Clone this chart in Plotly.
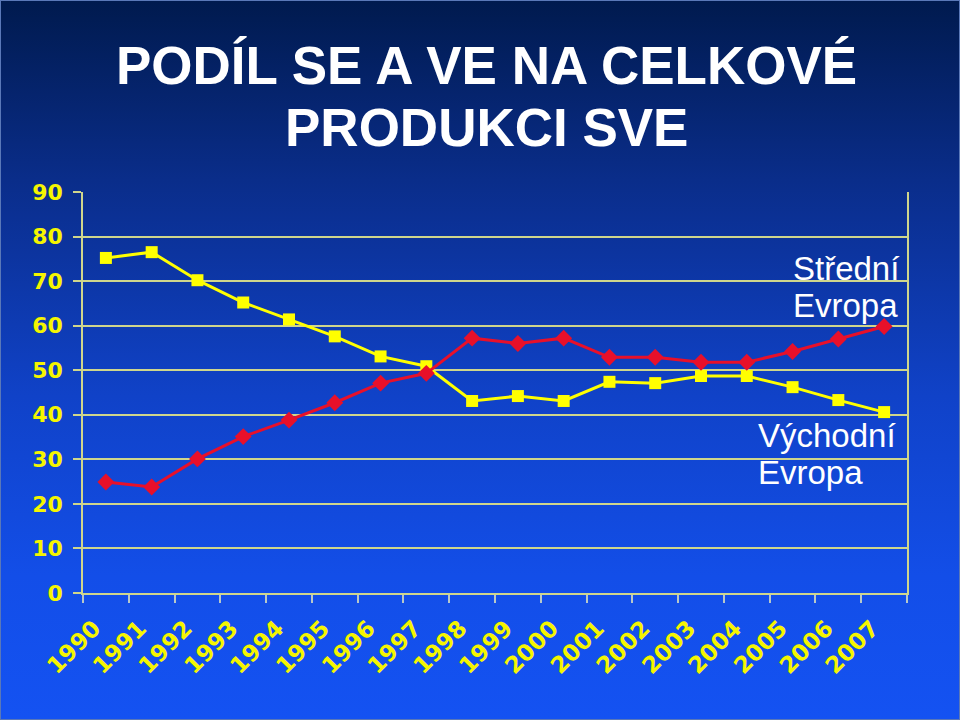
import base64
import plotly.graph_objects as go

years = [str(y) for y in range(1990, 2008)]
vychodni = [75.2, 76.5, 70.2, 65.2, 61.4, 57.6, 53.1, 50.9, 43.1, 44.2, 43.1, 47.4, 47.1, 48.7, 48.7, 46.2, 43.3, 40.6]
stredni = [24.9, 23.8, 30.1, 35.1, 38.8, 42.7, 47.1, 49.3, 57.2, 56.0, 57.2, 52.9, 52.9, 51.8, 51.8, 54.2, 57.0, 59.8]
y_ticks = [0, 10, 20, 30, 40, 50, 60, 70, 80, 90]

W, H = 960, 720
L, R, T, B = 83, 53, 192, 127
pw, ph = W - L - R, H - T - B

svg = f'''<svg xmlns="http://www.w3.org/2000/svg" width="{W}" height="{H}" preserveAspectRatio="none">
<defs><linearGradient id="g" x1="0" y1="0" x2="0" y2="1">
<stop offset="0" stop-color="#001a4e"/>
<stop offset="0.25" stop-color="#0a2d8a"/>
<stop offset="0.55" stop-color="#1042c8"/>
<stop offset="0.8" stop-color="#134ee8"/>
<stop offset="1" stop-color="#1452f2"/>
</linearGradient></defs>
<rect x="0" y="0" width="{W}" height="{H}" fill="url(#g)" stroke="#5a78b8" stroke-width="2"/>
</svg>'''
src = "data:image/svg+xml;base64," + base64.b64encode(svg.encode()).decode()

fig = go.Figure()
fig.add_trace(go.Scatter(
    x=years, y=vychodni, mode="lines+markers", name="Východní Evropa",
    line=dict(color="#ffff00", width=3),
    marker=dict(symbol="square", size=12, color="#ffff00"),
))
fig.add_trace(go.Scatter(
    x=years, y=stredni, mode="lines+markers", name="Střední Evropa",
    line=dict(color="#e8102a", width=3),
    marker=dict(symbol="diamond", size=13, color="#e8102a"),
))

def px_x(px):
    return (px - L) / pw

def px_y(py):
    return (H - B - py) / ph

grid = "#cfd68c"
fig.update_layout(
    width=W, height=H,
    margin=dict(l=L, r=R, t=T, b=B),
    paper_bgcolor="#1452f2",
    plot_bgcolor="rgba(0,0,0,0)",
    showlegend=False,
    font=dict(family="Arial, Liberation Sans, sans-serif"),
    images=[dict(source=src, xref="paper", yref="paper",
                 x=px_x(0), y=px_y(0), sizex=W / pw, sizey=H / ph,
                 xanchor="left", yanchor="top", sizing="stretch", layer="below")],
    xaxis=dict(
        type="category", range=[-0.5, 17.5],
        tickson="boundaries", ticks="outside", ticklen=8, tickcolor="#b8c8c8", tickwidth=1.5,
        showgrid=False, showline=True, linecolor=grid, linewidth=1.5,
        tickangle=-45,
        tickfont=dict(size=23, color="#f5f500", family="DejaVu Sans, Verdana, sans-serif", weight="bold"),
        ticklabelstandoff=11,
        ticklabelshift=-12,
    ),
    yaxis=dict(
        range=[0, 90], tickvals=y_ticks,
        ticks="outside", ticklen=8, tickcolor=grid, tickwidth=1.5,
        showgrid=True, gridcolor=grid, gridwidth=1.5,
        showline=True, linecolor=grid, linewidth=1.5, mirror=True,
        zeroline=False,
        tickfont=dict(size=22, color="#f5f500", family="DejaVu Sans, Verdana, sans-serif", weight="bold"),
        ticklabelstandoff=6,
    ),
)

anns = [
    ("<b>PODÍL SE A VE NA CELKOVÉ</b>", 486, 65, 53, "center"),
    ("<b>PRODUKCI SVE</b>", 486, 128, 53, "center"),
]
for text, x, y, size, anchor in anns:
    fig.add_annotation(text=text, xref="paper", yref="paper", x=px_x(x), y=px_y(y),
                       xanchor=anchor, yanchor="middle", showarrow=False,
                       font=dict(size=size, color="white", family="Arial, Liberation Sans, sans-serif"))

labels = [
    ("Střední", 791, 268),
    ("Evropa", 791, 305),
    ("Východní", 756, 435),
    ("Evropa", 756, 472),
]
for text, x, y in labels:
    fig.add_annotation(text=text, xref="paper", yref="paper", x=px_x(x), y=px_y(y),
                       xanchor="left", yanchor="middle", showarrow=False,
                       font=dict(size=33, color="white", family="Arial, Liberation Sans, sans-serif"))

fig.write_html("out.html")
